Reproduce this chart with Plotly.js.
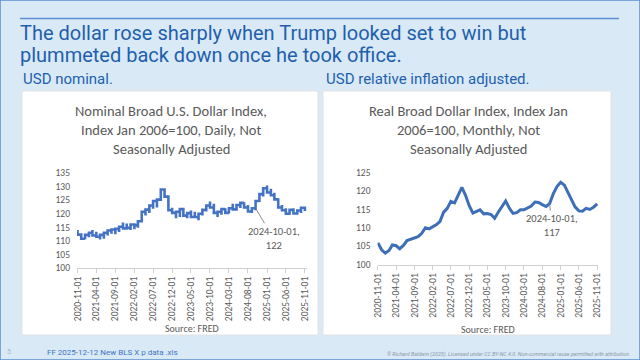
<!DOCTYPE html>
<html>
<head>
<meta charset="utf-8">
<script src="https://cdn.plot.ly/plotly-3.0.1.min.js"></script>
<style>html,body{margin:0;padding:0;background:#d9e9f6;}#chart{width:640px;height:360px;}</style>
</head>
<body>
<div id="chart"></div>
<script>
// ---- data ----
const months = ['2020-11-01','2020-12-01','2021-01-01','2021-02-01','2021-03-01','2021-04-01','2021-05-01','2021-06-01','2021-07-01','2021-08-01','2021-09-01','2021-10-01','2021-11-01','2021-12-01','2022-01-01','2022-02-01','2022-03-01','2022-04-01','2022-05-01','2022-06-01','2022-07-01','2022-08-01','2022-09-01','2022-10-01','2022-11-01','2022-12-01','2023-01-01','2023-02-01','2023-03-01','2023-04-01','2023-05-01','2023-06-01','2023-07-01','2023-08-01','2023-09-01','2023-10-01','2023-11-01','2023-12-01','2024-01-01','2024-02-01','2024-03-01','2024-04-01','2024-05-01','2024-06-01','2024-07-01','2024-08-01','2024-09-01','2024-10-01','2024-11-01','2024-12-01','2025-01-01','2025-02-01','2025-03-01','2025-04-01','2025-05-01','2025-06-01','2025-07-01','2025-08-01','2025-09-01','2025-10-01','2025-11-01'];

// Nominal broad dollar index (daily values grouped by month: monthly low / high)
const nominalLow  = [112.3,110.8,110.6,111.3,112.0,111.5,110.5,110.8,112.0,112.6,112.4,113.3,114.6,114.8,114.0,114.3,114.8,117.3,119.3,120.3,121.8,122.3,125.3,126.3,121.3,120.3,118.3,118.8,119.3,118.3,118.8,118.8,117.6,119.3,120.8,122.3,120.3,118.8,119.6,120.3,120.1,121.6,121.6,122.1,122.3,120.8,120.3,121.3,124.3,126.3,127.8,126.8,125.3,122.3,121.3,120.0,119.6,120.1,119.6,120.3,121.0];
const nominalHigh = [114.0,112.8,112.2,113.0,114.0,113.4,112.2,113.0,113.8,114.2,114.4,115.2,116.8,116.4,116.0,115.8,117.2,120.7,121.5,123.0,124.7,125.2,128.9,128.9,125.7,122.2,120.7,121.7,121.7,120.2,121.2,120.7,120.0,121.4,123.0,124.5,123.7,120.7,121.7,122.0,122.0,123.7,123.2,124.0,124.2,123.2,122.0,124.7,127.2,129.4,130.4,129.2,127.7,125.7,123.2,122.0,121.4,122.0,121.2,122.2,122.7];

// Real broad dollar index, monthly
const realIndex = [105.9,104.0,103.1,103.8,105.3,105.1,104.3,105.2,106.5,106.8,107.1,107.6,108.5,110.0,109.7,110.2,110.8,111.7,114.2,115.3,117.2,116.8,118.9,121.0,118.8,116.0,114.0,114.4,114.9,113.8,113.9,113.6,112.6,114.3,115.9,117.3,115.3,113.9,114.1,114.9,114.9,115.5,115.9,117.0,116.9,116.3,115.8,116.6,119.3,121.2,122.4,121.6,119.6,117.5,115.7,114.6,114.5,115.3,115.0,115.6,116.5];

const tickDates = ['2020-11-01','2021-04-01','2021-09-01','2022-02-01','2022-07-01','2022-12-01','2023-05-01','2023-10-01','2024-03-01','2024-08-01','2025-01-01','2025-06-01','2025-11-01'];
const yTicksNominal = [100,105,110,115,120,125,130,135];
const yTicksReal = [100,105,110,115,120,125];

const nominalLabel = {date:'2024-10-01', value:122};
const realLabel = {date:'2024-10-01', value:117};

// ---- build step path for the nominal series (all daily values of a month share the month's x) ----
const nx = [], ny = [];
for (let i = 0; i < months.length; i++) {
  const mid = (nominalLow[i] + nominalHigh[i]) / 2;
  const nextMid = i + 1 < months.length ? (nominalLow[i+1] + nominalHigh[i+1]) / 2 : mid;
  const up = nextMid >= mid;
  nx.push(months[i], months[i]);
  ny.push(up ? nominalLow[i] : nominalHigh[i], up ? nominalHigh[i] : nominalLow[i]);
}

const W = 640, H = 360;
const px = v => v / W;
const py = v => 1 - v / H;

const grey = '#595959';
const blue = '#4472c4';
const titleBlue = '#1f5fae';

const traces = [
  {x: nx, y: ny, type: 'scatter', mode: 'lines', line: {color: blue, width: 2.6, shape: 'hv'},
   xaxis: 'x', yaxis: 'y', hoverinfo: 'skip'},
  {x: months, y: realIndex, type: 'scatter', mode: 'lines', line: {color: '#3d6fb8', width: 3},
   xaxis: 'x2', yaxis: 'y2', hoverinfo: 'skip'}
];

const xCommon = {
  type: 'date', tickmode: 'array', tickvals: tickDates, ticktext: tickDates,
  tickangle: -90, tickfont: {family: 'Carlito, Lato, "Open Sans", sans-serif', size: 9.5, color: grey},
  showline: true, linecolor: '#d0d0d0', linewidth: 1, ticks: 'outside', ticklen: 4, tickcolor: '#d0d0d0',
  showgrid: false, zeroline: false, fixedrange: true
};
const yCommon = {
  tickfont: {family: 'Carlito, Lato, "Open Sans", sans-serif', size: 9.5, color: grey},
  showgrid: false, zeroline: false, showline: false, ticks: '', ticklabelstandoff: 6, fixedrange: true
};

const chartTitleFont = {family: 'Carlito, Lato, "Open Sans", sans-serif', size: 14.5, color: grey};
const ann = [];
function text(t, x, y, opts) {
  ann.push(Object.assign({text: t, x: px(x), y: py(y), xref: 'paper', yref: 'paper', showarrow: false,
    xanchor: 'left', yanchor: 'middle'}, opts || {}));
}
const mainFont = {family: 'Roboto, "Noto Sans", sans-serif', size: 20, color: titleBlue};
text('The dollar rose sharply when Trump looked set to win but', 19, 32.5, {font: mainFont, borderpad: 0});
text('plummeted back down once he took office.', 19, 55, {font: mainFont, borderpad: 0});
const subFont = {family: 'Roboto, "Noto Sans", sans-serif', size: 15, color: titleBlue};
text('USD nominal.', 21, 79, {font: subFont});
text('USD relative inflation adjusted.', 324, 79, {font: subFont});

text('Nominal Broad U.S. Dollar Index,', 171, 111, {font: chartTitleFont, xanchor: 'center'});
text('Index Jan 2006=100, Daily, Not', 171, 130, {font: chartTitleFont, xanchor: 'center'});
text('Seasonally Adjusted', 171, 149, {font: chartTitleFont, xanchor: 'center'});
text('Real Broad Dollar Index, Index Jan', 468, 111, {font: chartTitleFont, xanchor: 'center'});
text('2006=100, Monthly, Not', 468, 130, {font: chartTitleFont, xanchor: 'center'});
text('Seasonally Adjusted', 468, 149, {font: chartTitleFont, xanchor: 'center'});

const srcFont = {family: 'Carlito, Lato, "Open Sans", sans-serif', size: 10, color: grey};
text('Source: FRED', 192, 328, {font: srcFont, xanchor: 'center'});
text('Source: FRED', 488, 329, {font: srcFont, xanchor: 'center'});

text('FF 2025-12-12 New BLS X p data .xls', 45, 352, {font: {family: 'Roboto, sans-serif', size: 8, color: '#3f74c2'}});
text('5', 5, 352, {font: {family: 'Roboto, sans-serif', size: 7, color: '#a8b8c8'}});
text('<i>© Richard Baldwin (2025). Licensed under CC BY-NC 4.0. Non-commercial reuse permitted with attribution.</i>', 632, 354,
  {font: {family: 'Roboto, sans-serif', size: 5.3, color: '#8a98a8'}, xanchor: 'right'});

// data-point callouts
const calloutFont = {family: 'Carlito, Lato, "Open Sans", sans-serif', size: 10.5, color: grey};
ann.push({x: nominalLabel.date, y: nominalLabel.value, xref: 'x', yref: 'y',
  text: nominalLabel.date + ',<br>' + nominalLabel.value, showarrow: true, arrowhead: 0, arrowwidth: 1, arrowcolor: '#8c8c8c',
  ax: 18, ay: 30, font: calloutFont, align: 'center', standoff: 1});
ann.push({x: realLabel.date, y: realLabel.value - 0.4, xref: 'x2', yref: 'y2',
  text: realLabel.date + ',<br>' + realLabel.value, showarrow: true, arrowhead: 0, arrowwidth: 1, arrowcolor: '#8c8c8c',
  ax: 2, ay: 22, font: calloutFont, align: 'center', standoff: 1});

const shapes = [
  // slide border
  {type: 'rect', xref: 'paper', yref: 'paper', x0: 0, x1: 1, y0: 0, y1: 1, line: {color: '#5a8fd0', width: 1.5}, fillcolor: 'rgba(0,0,0,0)', layer: 'below'},
  // top rule
  {type: 'line', xref: 'paper', yref: 'paper', x0: px(20), x1: px(619), y0: py(18.5), y1: py(18.5), line: {color: '#5b8ed2', width: 1.6}},
  // white panels
  {type: 'rect', xref: 'paper', yref: 'paper', x0: px(22), x1: px(318), y0: py(91), y1: py(335), fillcolor: '#ffffff', line: {color: '#e3e3e3', width: 1}, layer: 'below'},
  {type: 'rect', xref: 'paper', yref: 'paper', x0: px(323), x1: px(611), y0: py(91), y1: py(335), fillcolor: '#ffffff', line: {color: '#e3e3e3', width: 1}, layer: 'below'}
];

const layout = {
  width: W, height: H, margin: {l: 0, r: 0, t: 0, b: 0},
  paper_bgcolor: '#d9e9f6', plot_bgcolor: 'rgba(0,0,0,0)', showlegend: false,
  xaxis: Object.assign({}, xCommon, {domain: [px(77), px(307)], range: ['2020-10-28', '2025-11-18'], anchor: 'y'}),
  yaxis: Object.assign({}, yCommon, {domain: [py(268), py(173)], range: [100, 135], tickvals: yTicksNominal, anchor: 'x'}),
  xaxis2: Object.assign({}, xCommon, {domain: [px(377.5), px(598)], range: ['2020-10-28', '2025-11-08'], anchor: 'y2'}),
  yaxis2: Object.assign({}, yCommon, {domain: [py(264.5), py(172.7)], range: [100, 125], tickvals: yTicksReal, anchor: 'x2'}),
  annotations: ann, shapes: shapes
};

Plotly.newPlot('chart', traces, layout, {staticPlot: true, displayModeBar: false});
</script>
</body>
</html>
